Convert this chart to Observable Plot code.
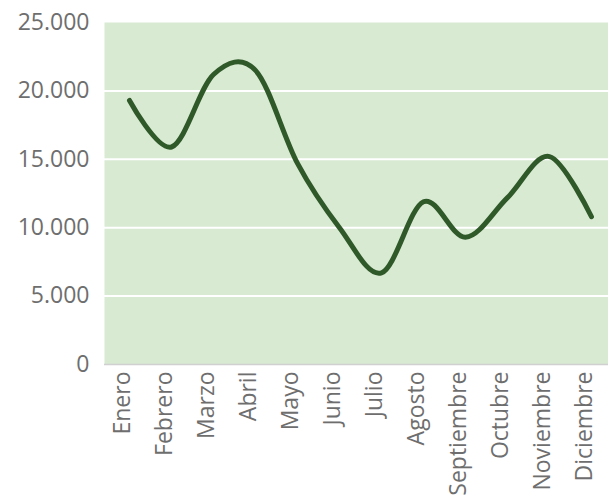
<!DOCTYPE html>
<html>
<head>
<meta charset="utf-8">
<script src="https://cdn.jsdelivr.net/npm/d3@7"></script>
<script src="https://cdn.jsdelivr.net/npm/@observablehq/plot@0.6"></script>
<style>
  html, body { margin: 0; padding: 0; background: #ffffff; }
  #chart svg { display: block; }
</style>
</head>
<body>
<div id="chart"></div>
<script>
const months = ["Enero", "Febrero", "Marzo", "Abril", "Mayo", "Junio", "Julio", "Agosto", "Septiembre", "Octubre", "Noviembre", "Diciembre"];
const values = [19300, 15900, 21200, 21500, 14700, 10000, 6700, 11900, 9300, 12200, 15200, 10800];
const yTicks = [0, 5000, 10000, 15000, 20000, 25000];
const gridTicks = [5000, 10000, 15000, 20000];

const data = months.map((m, i) => ({month: m, value: values[i]}));
const fmt = d => d3.format(",")(d).replace(/,/g, ".");

const chart = Plot.plot({
  width: 608,
  height: 504,
  marginLeft: 104,
  marginRight: -8,
  marginTop: 22,
  marginBottom: 140,
  style: {fontFamily: "'Open Sans', sans-serif", color: "#6e6e6e", background: "#ffffff"},
  x: {type: "point", domain: months, padding: 0.466},
  y: {domain: [0, 25000]},
  marks: [
    Plot.frame({fill: "#d9ead3", stroke: null}),
    Plot.gridY(gridTicks, {stroke: "#ffffff", strokeOpacity: 1, strokeWidth: 2}),
    Plot.ruleY([0], {stroke: "#d0d0d0", strokeWidth: 1.5}),
    Plot.axisY(yTicks, {tickSize: 0, tickPadding: 15, tickFormat: fmt, fontSize: 23, fill: "#6e6e6e", label: null}),
    Plot.axisX({tickSize: 0, tickRotate: -90, tickPadding: 7, dx: -7, fontSize: 23, fill: "#6e6e6e", label: null}),
    Plot.line(data, {x: "month", y: "value", curve: "cardinal", tension: 0, stroke: "#30592a", strokeWidth: 5, strokeLinecap: "round", strokeLinejoin: "round"})
  ]
});
document.getElementById("chart").appendChild(chart);
</script>
</body>
</html>
